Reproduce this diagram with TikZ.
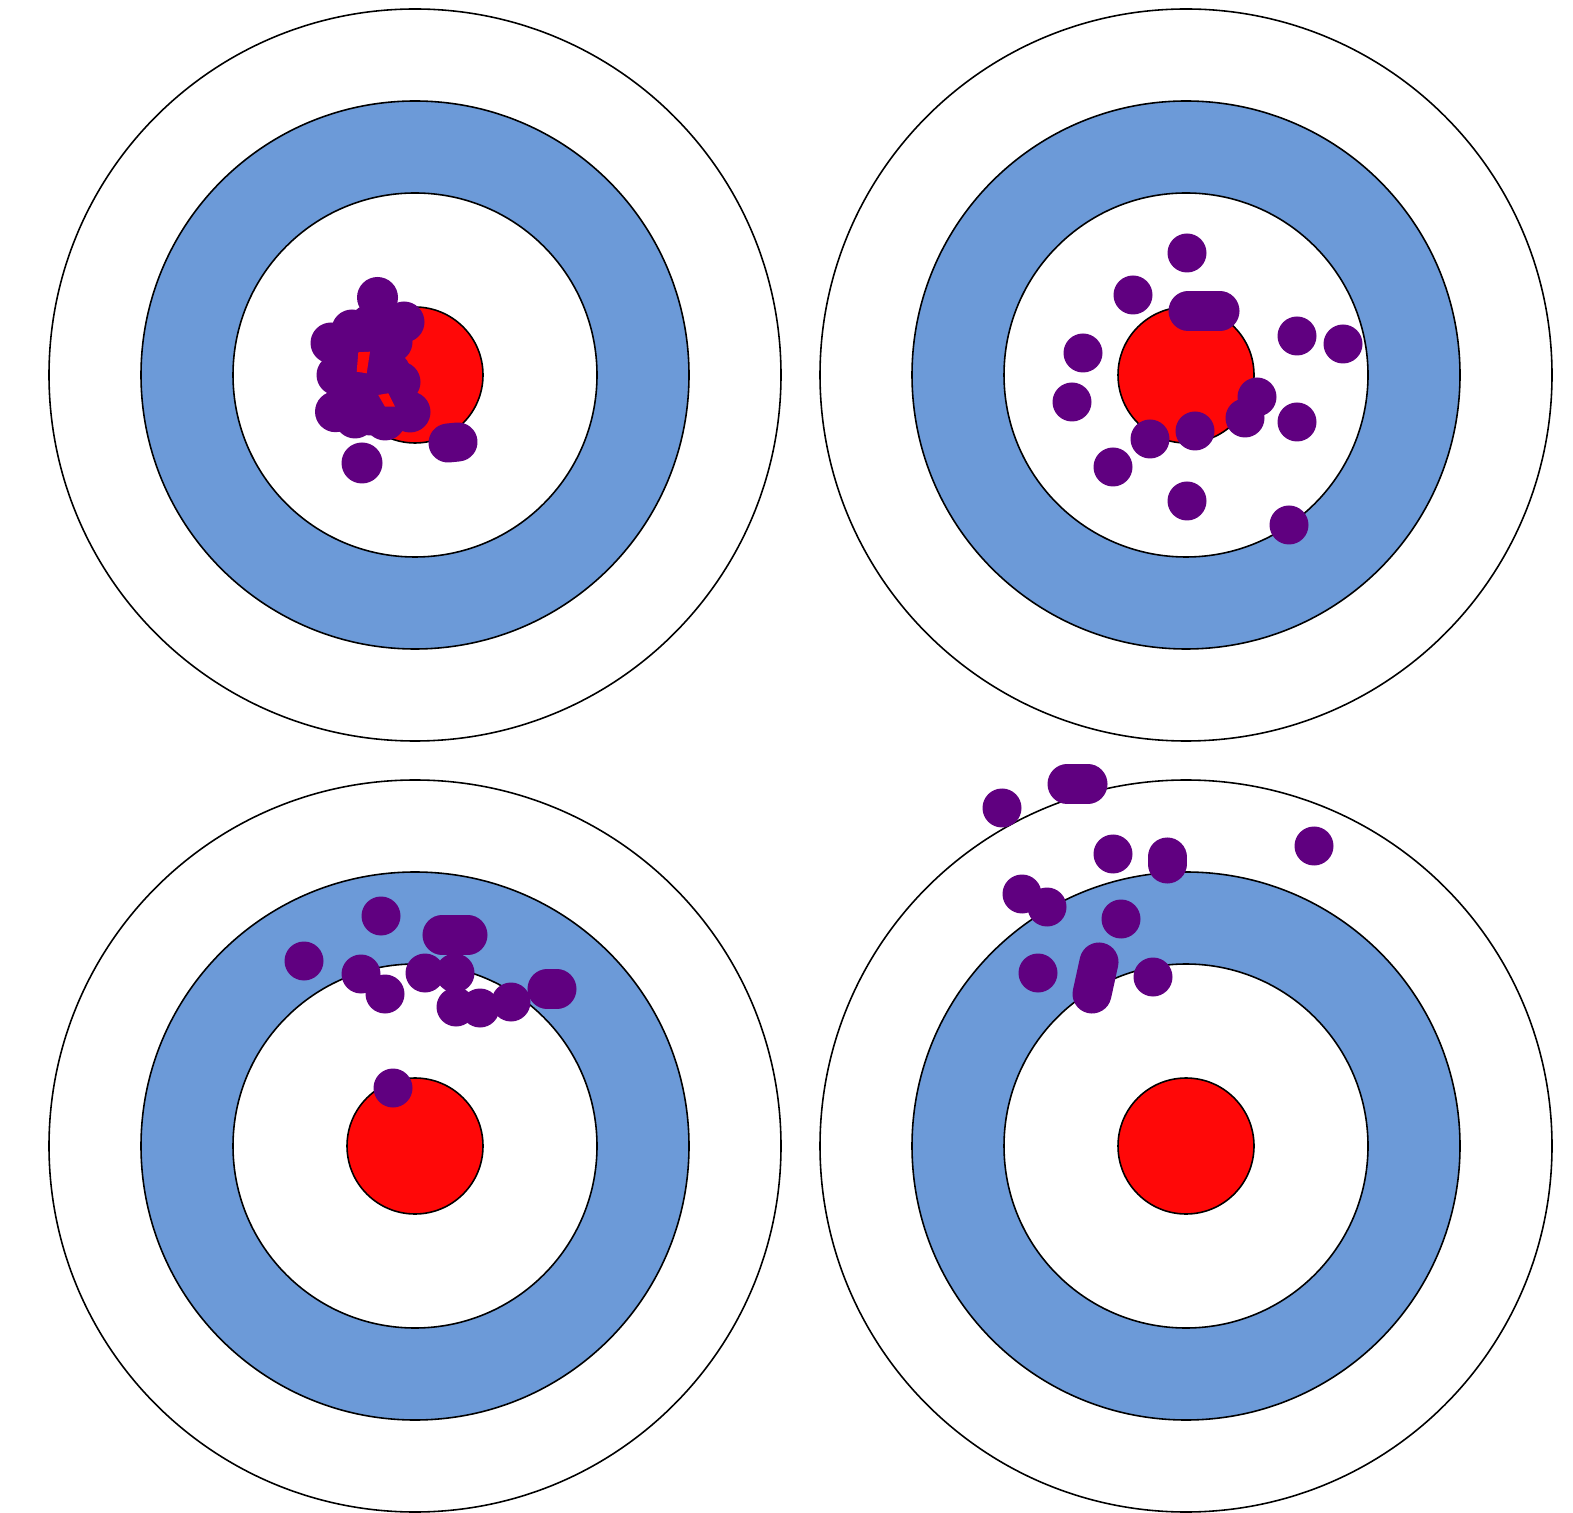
\documentclass[tikz,border=0pt]{standalone}
\definecolor{ringblue}{RGB}{108,154,216}
\definecolor{bullred}{RGB}{255,8,8}
\definecolor{shotpurple}{RGB}{96,0,128}
\tikzset{
  ring/.style={draw=black,line width=0.45pt},
  shot/.style={fill=shotpurple},
  pill/.style={draw=shotpurple,line width=0.39cm,line cap=round},
}
\newcommand{\target}[2]{%
  \fill[white,ring] (#1,#2) circle (366);
  \fill[ringblue,ring] (#1,#2) circle (274);
  \fill[white,ring] (#1,#2) circle (182);
  \fill[bullred,ring] (#1,#2) circle (68);
}
\begin{document}
\begin{tikzpicture}[x=0.01cm,y=-0.01cm]
\useasboundingbox (0,0) rectangle (1573,1513);
\fill[white] (0,0) rectangle (1573,1513);
\target{415}{375}
\target{1186}{375}
\target{415}{1146}
\target{1186}{1146}
% target 1: outline shots, then inner shots, then the two red slivers left open
\foreach \x/\y in {377.5/297.5,404/322,352/330,370/325,331/343,337/375,335.5/411.7,355/418,385/420,410/412,
                   400/382,392/342,390/372,356/396,362/463}
  \fill[shot] (\x,\y) circle (20.5);
\foreach \x/\y in {360/350,375/350,360/375,375/380,365/400,380/400,370/415,390/400,385/330}
  \fill[shot] (\x,\y) circle (20.5);
\fill[bullred] (358.3,352.3) -- (370,351.7) -- (366.7,373.3) -- (356.7,371.7) -- cycle;
\fill[bullred] (378.3,395) -- (388.3,393.3) -- (395,406.7) -- (385,406.7) -- cycle;
\draw[pill] (448,443) -- (458,442);
% target 2
\foreach \x/\y in {1187/253,1133/295,1297/336,1343/344,1083/353,1072/402,1257/397,1245/418,1297/422,1195/431,1150/439,1113/467,1187/501,1289/525}
  \fill[shot] (\x,\y) circle (19.5);
\draw[pill] (1188,311) -- (1220,311);
% target 3
\foreach \x/\y in {381/916,304/961,361/974,385/994,425/973,455/973,456/1007,480/1008,511/1002,393/1088}
  \fill[shot] (\x,\y) circle (19.5);
\draw[pill] (442,935) -- (468,935);
\draw[pill] (547,989) -- (557,989);
% target 4
\foreach \x/\y in {1002/808,1113/854,1314/846,1022/894,1047/907,1121/919,1038/973,1153/977}
  \fill[shot] (\x,\y) circle (19.5);
\draw[pill] (1067,784) -- (1088,784);
\draw[pill] (1167,857) -- (1167,864);
\draw[pill] (1099,962) -- (1092,994);
\end{tikzpicture}
\end{document}
